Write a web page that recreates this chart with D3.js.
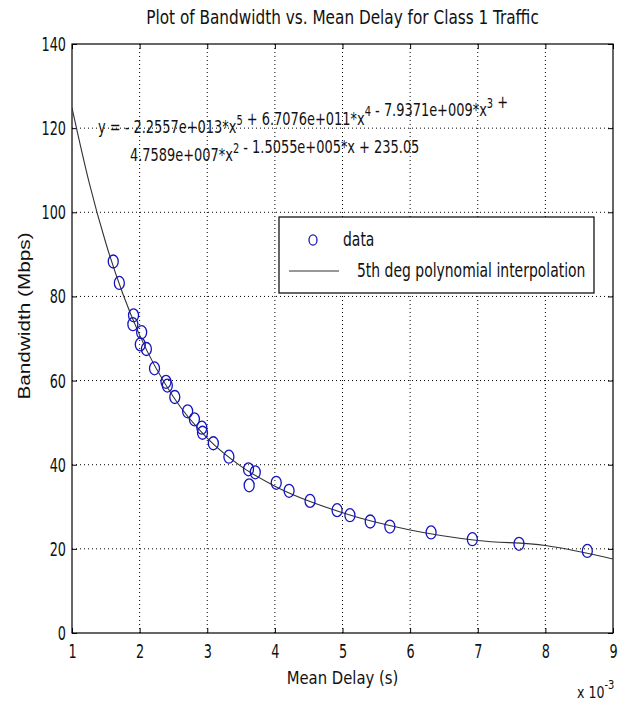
<!DOCTYPE html>
<html>
<head>
<meta charset="utf-8">
<script src="https://cdn.jsdelivr.net/npm/d3@7"></script>
<style>
  body { margin: 0; background: #fff; }
  svg { display: block; }
</style>
</head>
<body>
<svg id="chart" width="621" height="704"></svg>
<script>
// measured points (mean delay in ms, bandwidth in Mbps)
const delayMs = [1.61, 1.70, 1.90, 1.91, 2.01, 2.03, 2.10, 2.22, 2.39, 2.41, 2.52, 2.71, 2.81, 2.92, 2.93,
  3.09, 3.32, 3.61, 3.62, 3.71, 4.02, 4.21, 4.52, 4.92, 5.11, 5.41, 5.70, 6.31, 6.92, 7.61, 8.62];
const bandwidth = [88.3, 83.2, 73.4, 75.5, 68.6, 71.5, 67.5, 62.9, 59.7, 58.8, 56.1, 52.7, 50.8, 48.8, 47.6,
  45.1, 41.9, 38.9, 35.1, 38.2, 35.7, 33.8, 31.4, 29.2, 28.0, 26.5, 25.3, 23.9, 22.3, 21.2, 19.5];

// fitted curve
const fitDelayMs = [1.0, 1.25, 1.5, 1.75, 2.0, 2.5, 3.0, 3.5, 4.0, 5.0, 6.0, 7.0, 8.0, 9.0];
const fitBandwidth = [124.8, 107.3, 92.7, 80.7, 70.8, 56.1, 46.3, 39.6, 34.9, 28.6, 24.5, 22.0, 20.8, 17.6];

const xTicks = [1, 2, 3, 4, 5, 6, 7, 8, 9];
const yTicks = [0, 20, 40, 60, 80, 100, 120, 140];

const titleText = "Plot of Bandwidth vs. Mean Delay for Class 1 Traffic";
const xLabel = "Mean Delay (s)";
const yLabel = "Bandwidth (Mbps)";
const legendLabels = ["data", "5th deg polynomial interpolation"];
// equation pieces: [text, superscript]
const eqLine1 = [["y = - 2.2557e+013*x", "5"], [" + 6.7076e+011*x", "4"], [" - 7.9371e+009*x", "3"], [" +", ""]];
const eqLine2 = [["4.7589e+007*x", "2"], [" - 1.5055e+005*x + 235.05", ""]];

const narrow = '"DejaVu Sans Condensed", "DejaVu Sans", sans-serif';
const regular = '"Liberation Sans", Arial, sans-serif';

const svg = d3.select("#chart");
const marginLeft = 72, marginRight = 613, marginTop = 44, marginBottom = 633;

const x = d3.scaleLinear().domain([1, 9]).range([marginLeft, marginRight]);
const y = d3.scaleLinear().domain([0, 140]).range([marginBottom, marginTop]);

// text in a stretched group, the old matlab export looks tall and narrow
function addText(tx, ty, size, sx, sy, anchor, family) {
  return svg.append("g")
    .attr("transform", `translate(${tx},${ty}) scale(${sx},${sy})`)
    .append("text")
    .attr("text-anchor", anchor || "start")
    .attr("fill", "#111")
    .style("font-family", family || narrow)
    .style("font-size", size + "px");
}

// gridlines
svg.append("g").selectAll("line")
  .data(xTicks.slice(1, -1))
  .join("line")
  .attr("x1", d => x(d)).attr("x2", d => x(d))
  .attr("y1", marginTop).attr("y2", marginBottom)
  .attr("stroke", "#000").attr("stroke-width", 1)
  .attr("stroke-dasharray", "1,3");
svg.append("g").selectAll("line")
  .data(yTicks.slice(1, -1))
  .join("line")
  .attr("x1", marginLeft).attr("x2", marginRight)
  .attr("y1", d => y(d)).attr("y2", d => y(d))
  .attr("stroke", "#000").attr("stroke-width", 1)
  .attr("stroke-dasharray", "1,3");

// axes (ticks point inward)
const tickSx = 0.92, tickSy = 1.3;
const xPad = 11, yPad = 6;
const xAxis = svg.append("g")
  .attr("transform", `translate(0, ${marginBottom})`)
  .call(d3.axisBottom(x).tickValues(xTicks).tickSizeInner(-5).tickSizeOuter(0).tickPadding(xPad));
const yAxis = svg.append("g")
  .attr("transform", `translate(${marginLeft}, 0)`)
  .call(d3.axisLeft(y).tickValues(yTicks).tickSizeInner(-5).tickSizeOuter(0).tickPadding(yPad));
svg.append("g")
  .attr("transform", `translate(0, ${marginTop})`)
  .call(d3.axisTop(x).tickValues(xTicks).tickSizeInner(-5).tickSizeOuter(0).tickFormat(""));
svg.append("g")
  .attr("transform", `translate(${marginRight}, 0)`)
  .call(d3.axisRight(y).tickValues(yTicks).tickSizeInner(-5).tickSizeOuter(0).tickFormat(""));

svg.selectAll(".domain").remove();
svg.selectAll(".tick line").attr("stroke", "#000");
svg.selectAll(".tick text")
  .attr("fill", "#111")
  .style("font-family", narrow)
  .style("font-size", "15.5px")
  .attr("transform", `scale(${tickSx}, ${tickSy})`);
xAxis.selectAll(".tick text").attr("y", xPad / tickSy);
yAxis.selectAll(".tick text").attr("x", -yPad / tickSx);

// box
svg.append("rect")
  .attr("x", marginLeft).attr("y", marginTop)
  .attr("width", marginRight - marginLeft).attr("height", marginBottom - marginTop)
  .attr("fill", "none").attr("stroke", "#000").attr("stroke-width", 1.2);

// clip for curve
svg.append("defs").append("clipPath").attr("id", "plot-clip")
  .append("rect")
  .attr("x", marginLeft).attr("y", marginTop)
  .attr("width", marginRight - marginLeft).attr("height", marginBottom - marginTop);

const fitData = fitDelayMs.map((d, i) => ({ delay: d, bw: fitBandwidth[i] }));
const line = d3.line()
  .x(d => x(d.delay))
  .y(d => y(d.bw))
  .curve(d3.curveMonotoneX);

svg.append("path")
  .datum(fitData)
  .attr("d", line)
  .attr("fill", "none")
  .attr("stroke", "#333")
  .attr("stroke-width", 1.1)
  .attr("clip-path", "url(#plot-clip)");

// data markers
const points = delayMs.map((d, i) => ({ delay: d, bw: bandwidth[i] }));
svg.append("g").selectAll("ellipse")
  .data(points)
  .join("ellipse")
  .attr("cx", d => x(d.delay))
  .attr("cy", d => y(d.bw))
  .attr("rx", 5).attr("ry", 6.5)
  .attr("fill", "none")
  .attr("stroke", "#1515c0")
  .attr("stroke-width", 1.3);

// equation text
function writeEq(parts, tx, ty) {
  const t = addText(tx, ty, 14.4, 1, 1.2);
  parts.forEach(([main, sup]) => {
    t.append("tspan").text(main);
    if (sup) {
      t.append("tspan").attr("dy", -7).style("font-size", "11px").text(sup);
      t.append("tspan").attr("dy", 7).text("");
    }
  });
}
writeEq(eqLine1, 98, 133);
writeEq(eqLine2, 130, 161);

// legend
const legend = svg.append("g");
legend.append("rect")
  .attr("x", 279).attr("y", 217).attr("width", 315).attr("height", 76)
  .attr("fill", "#fff").attr("stroke", "#000").attr("stroke-width", 1.2);
legend.append("ellipse")
  .attr("cx", 313).attr("cy", 240).attr("rx", 4).attr("ry", 5.2)
  .attr("fill", "none").attr("stroke", "#1515c0").attr("stroke-width", 1.3);
addText(343, 246, 15.5, 1, 1.2).text(legendLabels[0]);
legend.append("line")
  .attr("x1", 289).attr("x2", 339).attr("y1", 271).attr("y2", 271)
  .attr("stroke", "#333").attr("stroke-width", 1.1);
addText(357, 277, 15.5, 1, 1.2).text(legendLabels[1]);

// titles
addText((marginLeft + marginRight) / 2, 24, 17, 1, 1.1, "middle").text(titleText);
addText((marginLeft + marginRight) / 2, 684, 16.5, 1, 1.12, "middle").text(xLabel);

svg.append("g")
  .attr("transform", `translate(30, 316) rotate(-90) scale(1.22, 1)`)
  .append("text")
  .attr("text-anchor", "middle")
  .attr("fill", "#111")
  .style("font-family", regular).style("font-size", "17px")
  .text(yLabel);

// exponent label
const expo = addText(577, 698, 14, 1, 1.15);
expo.append("tspan").text("x 10");
expo.append("tspan").attr("dy", -8).style("font-size", "11px").text("-3");
</script>
</body>
</html>
